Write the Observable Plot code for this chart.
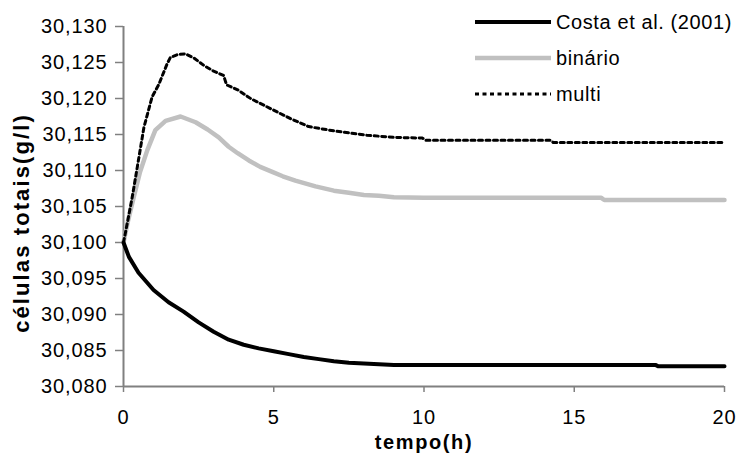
<!DOCTYPE html>
<html>
<head>
<meta charset="utf-8">
<script src="https://cdn.jsdelivr.net/npm/d3@7"></script>
<script src="https://cdn.jsdelivr.net/npm/@observablehq/plot@0.6"></script>
<style>
  html, body { margin: 0; padding: 0; background: #fff; }
  #wrap { position: relative; width: 739px; height: 454px; font-family: "Liberation Sans", Arial, sans-serif; }
  #wrap svg text { font-family: "Liberation Sans", Arial, sans-serif; }
  [aria-label="y-axis tick label"] text, [aria-label="x-axis tick label"] text { font-size: 20px; letter-spacing: 0.9px; fill: #000; }
  [aria-label="x-axis label"] text { font-size: 20px; font-weight: bold; fill: #000; letter-spacing: 1.6px; }
  #ylabel { position: absolute; left: 22px; top: 223px; transform: translate(-50%, -50%) rotate(-90deg);
    white-space: nowrap; font-size: 22px; font-weight: bold; letter-spacing: 2.1px; line-height: 1; color: #000; }
  #legend { position: absolute; left: 475px; top: 4px; font-size: 20px; letter-spacing: 0.6px; color: #000; }
  #legend .item { display: flex; align-items: center; height: 36px; }
  #legend svg { width: 76px; height: 10px; margin-right: 5px; }
</style>
</head>
<body>
<div id="wrap"></div>
<script>
// --- Data ---
const seriesNames = ["Costa et al. (2001)", "binário", "multi"];

const costaT = [0, 0.18, 0.5, 1, 1.5, 2, 2.5, 3, 3.5, 4, 4.5, 5, 5.5, 6, 6.5, 7, 7.5, 8, 8.5, 9, 10, 17.7, 17.8, 20];
const costaV = [30.1000, 30.0980, 30.0958, 30.0934, 30.0917, 30.0904, 30.0889, 30.0876, 30.0865, 30.0858, 30.0853, 30.0849, 30.0845, 30.0841, 30.0838, 30.0835, 30.0833, 30.0832, 30.0831, 30.0830, 30.0830, 30.0830, 30.0828, 30.0828];

const binT = [0, 0.15, 0.34, 0.55, 0.79, 1.06, 1.4, 1.9, 2.4, 2.8, 3.17, 3.5, 3.8, 4.17, 4.55, 4.95, 5.3, 5.72, 6.39, 7, 7.5, 8, 8.5, 9, 10, 15.9, 16, 20];
const binV = [30.1000, 30.1030, 30.1063, 30.1098, 30.1128, 30.1156, 30.1169, 30.1175, 30.1167, 30.1157, 30.1146, 30.1133, 30.1124, 30.1114, 30.1105, 30.1098, 30.1092, 30.1086, 30.1078, 30.1072, 30.1069, 30.1066, 30.1065, 30.1063, 30.1062, 30.1062, 30.1059, 30.1059];

const multiT = [0, 0.15, 0.29, 0.46, 0.68, 0.95, 1.18, 1.45, 1.56, 1.8, 2.06, 2.35, 2.67, 3.0, 3.33, 3.43, 3.8, 4.23, 4.89, 5.56, 6.16, 7, 8.1, 9, 9.95, 10.05, 14.2, 14.3, 20];
const multiV = [30.1000, 30.1032, 30.1063, 30.1105, 30.1160, 30.1202, 30.1220, 30.1248, 30.1257, 30.1261, 30.1262, 30.1256, 30.1246, 30.1238, 30.1232, 30.1219, 30.1212, 30.1200, 30.1186, 30.1172, 30.1161, 30.1155, 30.1149, 30.1146, 30.1145, 30.1142, 30.1142, 30.1139, 30.1139];

const xTicks = [0, 5, 10, 15, 20];
const yTicks = [30.080, 30.085, 30.090, 30.095, 30.100, 30.105, 30.110, 30.115, 30.120, 30.125, 30.130];

const xLabel = "tempo(h)";
const yLabel = "células totais(g/l)";

// --- Build tables ---
const costa = costaT.map((t, i) => ({t, v: costaV[i]}));
const bin = binT.map((t, i) => ({t, v: binV[i]}));
const multi = multiT.map((t, i) => ({t, v: multiV[i]}));

const fmtY = d => d3.format(".3f")(d).replace(".", ",");

const chart = Plot.plot({
  width: 739,
  height: 454,
  marginLeft: 123,
  marginRight: 15,
  marginTop: 26,
  marginBottom: 68,
  style: {background: "#fff", fontFamily: "Liberation Sans, Arial, sans-serif"},
  x: {domain: [0, 20]},
  y: {domain: [30.080, 30.130]},
  marks: [
    Plot.axisX({ticks: xTicks, tickSize: 6, tickPadding: 17, stroke: "#808080", strokeWidth: 1.5,
      label: xLabel, labelAnchor: "center", labelArrow: "none", labelOffset: 62}),
    Plot.axisY({ticks: yTicks, tickFormat: fmtY, tickSize: 8, tickPadding: 8, stroke: "#808080", strokeWidth: 1.5,
      label: null}),
    Plot.ruleX([0], {stroke: "#808080", strokeWidth: 2}),
    Plot.ruleY([30.080], {stroke: "#808080", strokeWidth: 2}),
    Plot.line(bin, {x: "t", y: "v", stroke: "#c0c0c0", strokeWidth: 4.5, curve: "linear"}),
    Plot.line(costa, {x: "t", y: "v", stroke: "#000", strokeWidth: 4, curve: "linear"}),
    Plot.line(multi, {x: "t", y: "v", stroke: "#000", strokeWidth: 3, strokeDasharray: "4,3.5", curve: "linear"})
  ]
});

const wrap = document.getElementById("wrap");
wrap.appendChild(chart);

// Y axis title
const yl = document.createElement("div");
yl.id = "ylabel";
yl.textContent = yLabel;
wrap.appendChild(yl);

// Legend (HTML overlay inside plot, top-right)
const styles = [
  {stroke: "#000", width: 4, dash: null},
  {stroke: "#c0c0c0", width: 4.5, dash: null},
  {stroke: "#000", width: 3, dash: "4,3.5"}
];
const legend = document.createElement("div");
legend.id = "legend";
seriesNames.forEach((name, i) => {
  const s = styles[i];
  const item = document.createElement("div");
  item.className = "item";
  item.innerHTML = `<svg viewBox="0 0 76 10"><line x1="0" y1="5" x2="76" y2="5" stroke="${s.stroke}" stroke-width="${s.width}" ${s.dash ? `stroke-dasharray="${s.dash}"` : ""}/></svg><span>${name}</span>`;
  legend.appendChild(item);
});
wrap.appendChild(legend);
</script>
</body>
</html>
